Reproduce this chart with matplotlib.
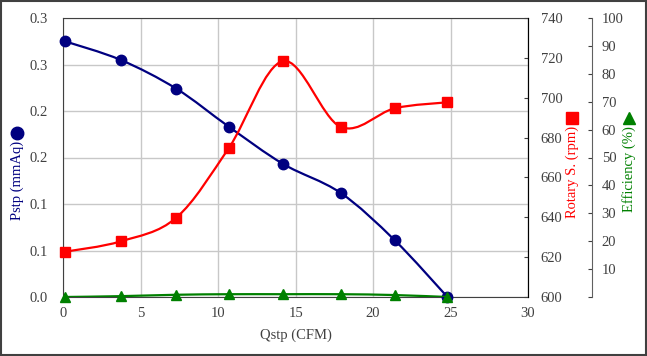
import numpy as np
import matplotlib
matplotlib.use("Agg")
import matplotlib.pyplot as plt
from matplotlib.path import Path
from matplotlib.patches import PathPatch, Rectangle
from matplotlib.lines import Line2D

# data
qstp = [0.1, 3.7, 7.3, 10.7, 14.2, 17.9, 21.4, 24.8]
pstp = [0.275, 0.255, 0.224, 0.183, 0.143, 0.112, 0.061, 0.0]
rpm = [622.7, 627.9, 639.8, 674.9, 718.4, 685.4, 694.7, 697.7]
eff = [0.0, 0.3, 0.8, 1.0, 1.0, 1.0, 0.7, 0.0]

x_ticks = [0, 5, 10, 15, 20, 25, 30]
pstp_ticks = [0.0, 0.05, 0.1, 0.15, 0.2, 0.25, 0.3]
pstp_labels = ["0.0", "0.1", "0.1", "0.2", "0.2", "0.3", "0.3"]
rpm_ticks = [600, 620, 640, 660, 680, 700, 720, 740]
eff_ticks = [0, 10, 20, 30, 40, 50, 60, 70, 80, 90, 100]
eff_labels = [""] + [str(v) for v in eff_ticks[1:]]

plt.rcParams["font.family"] = ["Liberation Serif", "DejaVu Sans"]
plt.rcParams["font.size"] = 10.5
TXT = "#404040"


def smooth_path(x, y):
    # Excel-like smoothed line (cubic bezier through the points)
    p = np.column_stack([x, y]).astype(float)
    pts = np.vstack([p[0], p, p[-1]])
    verts = [p[0]]
    codes = [Path.MOVETO]
    for i in range(1, len(pts) - 2):
        c1 = pts[i] + (pts[i + 1] - pts[i - 1]) / 6
        c2 = pts[i + 1] - (pts[i + 2] - pts[i]) / 6
        verts += [c1, c2, pts[i + 1]]
        codes += [Path.CURVE4] * 3
    return Path(verts, codes)


fig = plt.figure(figsize=(6.47, 3.56), dpi=100)
ax = fig.add_axes([63.2 / 647, 1 - 297 / 356, (528 - 63.2) / 647, 279 / 356])
ax2 = ax.twinx()
ax3 = ax.twinx()

# Pstp
ax.add_patch(PathPatch(smooth_path(qstp, pstp), fill=False, edgecolor="#000080", lw=1.6, zorder=3))
ax.plot(qstp, pstp, ls="none", marker="o", ms=7.5, color="#000080", clip_on=False, zorder=4)
ax.set_xlim(0, 30)
ax.set_ylim(0, 0.3)
ax.set_xticks(x_ticks)
ax.set_yticks(pstp_ticks)
ax.set_yticklabels(pstp_labels)
ax.grid(True, color="#c8c8c8", lw=1)
ax.set_axisbelow(True)
ax.tick_params(axis="both", length=0, colors=TXT, labelsize=10.5)
ax.tick_params(axis="y", pad=11)
ax.tick_params(axis="x", pad=7)
for s in ax.spines.values():
    s.set_color("#404040")
ax.set_xlabel("Qstp (CFM)", color=TXT, fontsize=10.5, labelpad=6)

# Rotary speed
ax2.add_patch(PathPatch(smooth_path(qstp, rpm), fill=False, edgecolor="#ff0000", lw=1.6, zorder=3))
ax2.plot(qstp, rpm, ls="none", marker="s", ms=7, color="#ff0000", clip_on=False, zorder=4)
ax2.set_ylim(600, 740)
ax2.set_yticks(rpm_ticks)
ax2.tick_params(axis="y", direction="in", length=3, colors=TXT, labelsize=10.5, pad=9)
ax2.tick_params(axis="y", color="#404040")

# Efficiency
ax3.add_patch(PathPatch(smooth_path(qstp, eff), fill=False, edgecolor="#008000", lw=1.6, zorder=3))
ax3.plot(qstp, eff, ls="none", marker="^", ms=7.5, color="#008000", clip_on=False, zorder=4)
ax3.set_ylim(0, 100)
ax3.set_yticks(eff_ticks)
ax3.set_yticklabels(eff_labels)
ax3.spines["right"].set_position(("axes", (592 - 63.2) / (528 - 63.2)))
ax3.spines["right"].set_color("#606060")
ax3.tick_params(axis="y", direction="in", length=3, colors=TXT, labelsize=10.5, pad=7)
ax3.tick_params(axis="y", color="#404040")
for a in (ax2, ax3):
    for k in ("top", "left", "bottom"):
        a.spines[k].set_visible(False)

# axis titles with series symbols
fig.text(17 / 647, 1 - 180 / 356, "Pstp (mmAq)", rotation=90, ha="center", va="center",
         color="#000080", fontsize=10.5)
fig.add_artist(Line2D([17 / 647], [1 - 133 / 356], marker="o", ms=9, color="#000080",
                      transform=fig.transFigure))
fig.text(572 / 647, 1 - 172 / 356, "Rotary S. (rpm)", rotation=90, ha="center", va="center",
         color="#ff0000", fontsize=10.5)
fig.add_artist(Line2D([572 / 647], [1 - 118 / 356], marker="s", ms=9, color="#ff0000",
                      transform=fig.transFigure))
fig.text(629 / 647, 1 - 169 / 356, "Efficiency (%)", rotation=90, ha="center", va="center",
         color="#008000", fontsize=10.5)
fig.add_artist(Line2D([629 / 647], [1 - 118 / 356], marker="^", ms=9, color="#008000",
                      transform=fig.transFigure))

# outer frame
fig.patches.append(Rectangle((0.001, 0.002), 0.997, 0.995, transform=fig.transFigure,
                             fill=False, edgecolor="#404040", lw=1.5))

fig.savefig("out.png", dpi=100)
